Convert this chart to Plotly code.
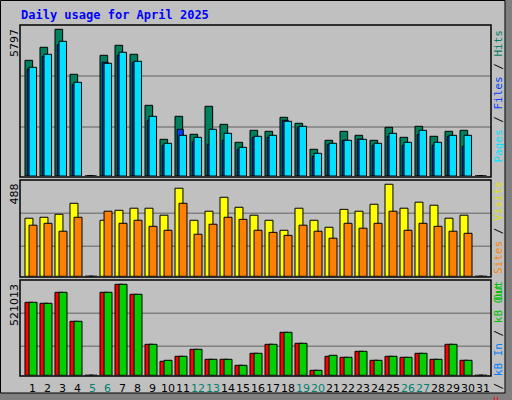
import plotly.graph_objects as go

days = list(range(1, 32))
hits = [4563,5076,5786,4011,0,4760,5155,4800,2788,1447,2354,1645,2749,2039,1329,1802,1763,2315,2078,1053,1408,1763,1605,1408,1921,1526,1960,1566,1763,1802,0]
files = [4220,4721,5167,3617,0,4484,4760,4484,2197,1211,1842,1369,1250,1408,1053,1526,1526,2197,1921,777,1250,1408,1447,1211,1566,1211,1645,1211,1566,1171,0]
pages = [4287,4800,5312,3696,0,4445,4879,4524,2354,1290,1605,1526,1842,1684,1132,1566,1605,2157,1960,895,1290,1408,1447,1290,1684,1329,1802,1329,1605,1605,0]
visits = [308,313,329,387,0,297,350,361,361,324,467,297,345,419,366,324,297,244,361,297,260,355,345,382,488,361,393,377,308,324,0]
sites = [271,281,239,313,0,345,281,297,265,244,387,223,276,313,302,244,233,217,271,239,202,281,255,281,345,244,281,265,239,228,0]
kbf = [417925,412200,475175,309150,0,475175,521013,463725,177475,80150,108775,148850,91600,91600,57250,125950,177475,246175,183200,28625,108775,103050,137400,85875,108775,103050,125950,91600,177475,85875,0]
kbin = [417925,412200,475175,309150,0,475175,521013,463725,177475,85875,108775,148850,91600,91600,57250,125950,177475,246175,183200,28625,114500,103050,137400,85875,108775,103050,125950,91600,177475,85875,0]
weekend = {5, 6, 12, 13, 19, 20, 26, 27}
ymax_labels = ["5797", "488", "521013"]

W, H = 512, 400
def py(p):
    return 1 - p / H

fig = go.Figure()
def bar(y, color, off, w, ax):
    fig.add_trace(go.Bar(x=days, y=y, offset=off, width=w, marker=dict(color=color, line=dict(color="black", width=1)),
                         xaxis="x" + ax, yaxis="y" + ax, showlegend=False, hoverinfo="skip"))

bar(hits, "#00805C", 0, 0.51, "")
bar(files, "#0040FF", 0.15, 0.4, "")
bar(pages, "#00E0FF", 0.27, 0.5, "")
bar(visits, "#FFFF00", 0, 0.53, "2")
bar(sites, "#FF8000", 0.27, 0.53, "2")
bar(kbf, "#FF0000", 0, 0.53, "3")
bar(kbin, "#00D000", 0.27, 0.53, "3")

xr = [0.667, 32.067]
xd = [20 / W, 491 / W]
xcommon = dict(range=xr, domain=xd, showgrid=False, showticklabels=False, zeroline=False, fixedrange=True)
fig.update_layout(
    width=W, height=H, margin=dict(l=0, r=0, t=0, b=0),
    paper_bgcolor="#C0C0C0", plot_bgcolor="rgba(0,0,0,0)", barmode="overlay",
    xaxis=dict(**xcommon, anchor="y"),
    xaxis2=dict(**xcommon, anchor="y2"),
    xaxis3=dict(**xcommon, anchor="y3"),
    yaxis=dict(domain=[py(176), py(25)], range=[0, 5955], visible=False),
    yaxis2=dict(domain=[py(276.3), py(180.3)], range=[0, 509], visible=False),
    yaxis3=dict(domain=[py(375.3), py(280.3)], range=[0, 543915], visible=False),
)

shapes = []
shapes.append(dict(type="rect", xref="paper", yref="paper", x0=505/W, x1=1, y0=0, y1=1, fillcolor="#808080", line_width=0, layer="below"))
shapes.append(dict(type="rect", xref="paper", yref="paper", x0=0, x1=1, y0=0, y1=py(393), fillcolor="#808080", line_width=0, layer="below"))
shapes.append(dict(type="rect", xref="paper", yref="paper", x0=0.5/W, x1=505/W, y0=py(393), y1=py(0.5), line=dict(color="black", width=1), layer="below"))
for g in [76, 127, 213.3, 246.3, 313.3, 346.3]:
    shapes.append(dict(type="line", xref="paper", yref="paper", x0=20/W, x1=491/W, y0=py(g), y1=py(g), line=dict(color="#808080", width=1.5), layer="below"))
for t, b in [(25, 177), (180, 277), (280, 376)]:
    shapes.append(dict(type="rect", xref="paper", yref="paper", x0=20/W, x1=491/W, y0=py(b), y1=py(t), line=dict(color="black", width=1.5), layer="above"))
fig.update_layout(shapes=shapes)

ann = []
ann.append(dict(text="<b>Daily usage for April 2025</b>", x=19/W, y=py(15), xref="paper", yref="paper", xanchor="left", yanchor="middle",
                showarrow=False, font=dict(family="DejaVu Sans Mono", size=12, color="#0000FF")))
for lab, top in zip(ymax_labels, [27, 182, 282]):
    ann.append(dict(text=lab, x=14/W, y=py(top), xref="paper", yref="paper", xanchor="center", yanchor="top", textangle=-90,
                    showarrow=False, font=dict(family="DejaVu Sans", size=11, color="black")))
right = [
    ('<span style="color:#00E0FF">Pages</span> / <span style="color:#0040FF">Files</span> / <span style="color:#00805C">Hits</span>', 28),
    ('<span style="color:#00C000">Out</span> <span style="color:#FF8000">Sites</span> / <span style="color:#E0E000">Visits</span>', 180),
    ('<span style="color:#FF0000">kB F</span> / <span style="color:#0080FF">kB In</span> / <span style="color:#00C000">kB Out</span>', 282),
]
for txt, top in right:
    ann.append(dict(text=txt, x=498/W, y=py(top), xref="paper", yref="paper", xanchor="center", yanchor="top", textangle=-90,
                    showarrow=False, font=dict(family="DejaVu Sans Mono", size=11, color="black")))
for d in days:
    ann.append(dict(text=str(d), x=d + 0.53, y=py(388), xref="x3", yref="paper", xanchor="center", yanchor="middle", showarrow=False,
                    font=dict(family="DejaVu Sans", size=11, color="#00806F" if d in weekend else "black")))
fig.update_layout(annotations=ann)
fig.write_html("out.html", config={"displayModeBar": False},
               post_script="document.body.style.margin='0';document.body.style.overflow='hidden';")
